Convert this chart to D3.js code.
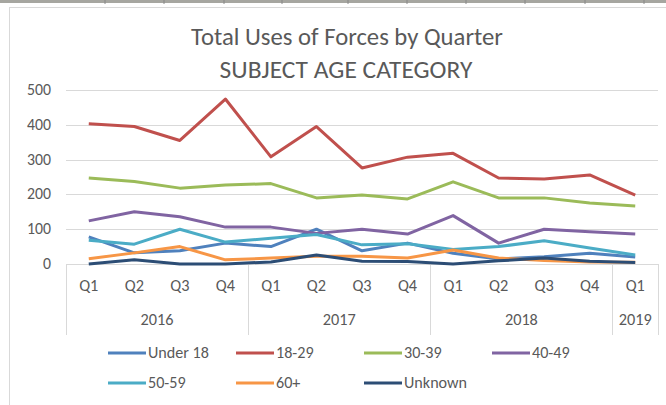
<!DOCTYPE html>
<html><head><meta charset="utf-8">
<script src="https://cdn.jsdelivr.net/npm/d3@7"></script>
<style>body{margin:0;background:#fff;} text{font-family:Carlito,Lato,"Open Sans",sans-serif;}</style>
</head><body><svg id="c" width="666" height="405"></svg>
<script>
const quarters = ["Q1","Q2","Q3","Q4","Q1","Q2","Q3","Q4","Q1","Q2","Q3","Q4","Q1"];
const years = ["2016","2017","2018","2019"];
const yearSpans = [4,4,4,1];
const seriesNames = ["Under 18","18-29","30-39","40-49","50-59","60+","Unknown"];
const under18 = [78, 32, 38, 60, 50, 100, 38, 60, 31, 14, 21, 31, 20];
const age18_29 = [403, 395, 355, 474, 308, 395, 276, 307, 318, 247, 244, 256, 198];
const age30_39 = [247, 237, 218, 227, 231, 190, 198, 187, 236, 190, 190, 175, 167];
const age40_49 = [124, 150, 136, 106, 106, 88, 100, 86, 139, 60, 100, 93, 86];
const age50_59 = [68, 57, 100, 63, 74, 85, 55, 58, 42, 50, 67, 46, 26];
const age60plus = [15, 32, 50, 12, 17, 22, 22, 17, 40, 17, 10, 6, 5];
const unknown = [0, 12, 0, 0, 6, 26, 8, 7, 0, 9, 17, 8, 4];
const yTicks = [0,100,200,300,400,500];
const colors = ["#4F81BD","#C0504D","#9BBB59","#8064A2","#4BACC6","#F79646","#2C4D75"];
const allSeries = [under18, age18_29, age30_39, age40_49, age50_59, age60plus, unknown];

const svg = d3.select("#c");
// font size that makes a sample string a given width
function fitSize(str, target, weight){
  const t = svg.append("text").attr("font-size",20).attr("font-weight",weight||400).text(str);
  const w = t.node().getComputedTextLength(); t.remove();
  return 20*target/w;
}
const fsY = fitSize("500",24);
const fsYear = fitSize("2016",33);
const fsQ = fsYear;
const fsLeg = fitSize("Under 18",61);
const fsT1 = fitSize("Total Uses of Forces by Quarter",312,300);
const fsT2 = fitSize("SUBJECT AGE CATEGORY",253,300);

// spreadsheet strip at top
svg.append("rect").attr("x",0).attr("y",0).attr("width",666).attr("height",3).attr("fill","#a6a6a0");
[105,164,224,282,348,407,466,525,585,644].forEach(x=>{
  svg.append("line").attr("x1",x).attr("x2",x).attr("y1",0).attr("y2",4).attr("stroke","#888").attr("stroke-width",1);
});
// chart frame
svg.append("rect").attr("x",9.5).attr("y",7.5).attr("width",670).attr("height",410)
  .attr("fill","#fff").attr("stroke","#d9d9d9");

const L=66, R=658, T=90, B=264;
const x = d3.scaleBand().domain(d3.range(quarters.length)).range([L,R]);
const y = d3.scaleLinear().domain([0,500]).range([B,T]);

// gridlines
svg.append("g").selectAll("line").data(yTicks).join("line")
  .attr("x1",L).attr("x2",R).attr("y1",d=>Math.round(y(d))+0.5).attr("y2",d=>Math.round(y(d))+0.5)
  .attr("stroke","#d9d9d9").attr("stroke-width",1);
// y labels
svg.append("g").selectAll("text").data(yTicks).join("text")
  .attr("x",51).attr("y",d=>y(d)+5).attr("text-anchor","end")
  .attr("font-size",fsY).attr("fill","#595959").text(d=>d);

// category axis separators
let idx=0; const seps=[L];
yearSpans.forEach(s=>{idx+=s; seps.push(idx<quarters.length? x(idx) : R);});
svg.append("g").selectAll("line").data(seps).join("line")
  .attr("x1",d=>Math.round(d)+0.5).attr("x2",d=>Math.round(d)+0.5).attr("y1",B).attr("y2",335)
  .attr("stroke","#d9d9d9");
svg.append("g").selectAll("text").data(quarters).join("text")
  .attr("x",(d,i)=>x(i)+x.bandwidth()/2).attr("y",291).attr("text-anchor","middle")
  .attr("font-size",fsQ).attr("fill","#595959").text(d=>d);
let acc=0;
years.forEach((yr,i)=>{
  const x0 = x(acc), x1 = acc+yearSpans[i] < quarters.length ? x(acc+yearSpans[i]) : R;
  svg.append("text").attr("x",(x0+x1)/2).attr("y",325).attr("text-anchor","middle")
    .attr("font-size",fsYear).attr("fill","#595959").text(yr);
  acc+=yearSpans[i];
});

// lines
const line = d3.line().x((d,i)=>x(i)+x.bandwidth()/2).y(d=>y(d));
allSeries.forEach((s,k)=>{
  svg.append("path").datum(s).attr("d",line).attr("fill","none")
    .attr("stroke",colors[k]).attr("stroke-width",3).attr("stroke-linejoin","round");
});

// title
svg.append("text").attr("x",347).attr("y",45).attr("text-anchor","middle").attr("font-weight",300)
  .attr("font-size",fsT1).attr("fill","#595959").text("Total Uses of Forces by Quarter");
svg.append("text").attr("x",346).attr("y",78).attr("text-anchor","middle").attr("font-weight",300)
  .attr("font-size",fsT2).attr("fill","#595959").text("SUBJECT AGE CATEGORY");

// legend
const legX=[108,236,364,492], legY=[353,383];
seriesNames.forEach((n,k)=>{
  const lx=legX[k%4], ly=legY[Math.floor(k/4)];
  svg.append("line").attr("x1",lx).attr("x2",lx+38).attr("y1",ly).attr("y2",ly)
    .attr("stroke",colors[k]).attr("stroke-width",3);
  svg.append("text").attr("x",lx+40).attr("y",ly+5).attr("font-size",fsLeg).attr("fill","#595959").text(n);
});
</script></body></html>
